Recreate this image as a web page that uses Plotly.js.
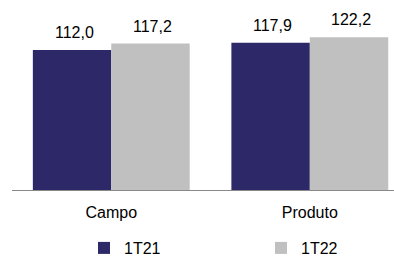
<!DOCTYPE html>
<html>
<head>
<meta charset="utf-8">
<script src="https://cdn.plot.ly/plotly-3.0.1.min.js"></script>
<style>html,body{margin:0;padding:0;background:#fff;}#chart{width:394px;height:258px;}</style>
</head>
<body>
<div id="chart"></div>
<script>
const categories = ['Campo', 'Produto'];
const seriesNames = ['1T21', '1T22'];
const values1T21 = [112.0, 117.9];
const values1T22 = [117.2, 122.2];
const seriesColors = ['#2D2868', '#C0C0C0'];

const font = 'Arial, "Liberation Sans", sans-serif';
const allValues = [values1T21, values1T22];

const traces = allValues.map((vals, i) => ({
  type: 'bar',
  name: seriesNames[i],
  x: categories,
  y: vals,
  marker: {color: seriesColors[i], line: {width: 0}},
  hoverinfo: 'skip'
}));

const barHalfPx = 39.2;
const annotations = [];
allValues.forEach((vals, i) => {
  vals.forEach((v, j) => {
    annotations.push({
      x: categories[j], y: v, xref: 'x', yref: 'y',
      text: v.toFixed(1).replace('.', ','),
      showarrow: false, yanchor: 'bottom',
      xshift: (i === 0 ? -barHalfPx : barHalfPx) + 2,
      yshift: 7,
      font: {family: font, size: 16, color: '#000'}
    });
  });
});

const layout = {
  width: 394, height: 258,
  margin: {l: 12, r: 0, t: 15, b: 68},
  paper_bgcolor: '#fff', plot_bgcolor: '#fff',
  barmode: 'group', bargap: 0.21, bargroupgap: 0,
  font: {family: font, color: '#000'},
  xaxis: {
    range: [-0.5, 1.424], showline: true, linecolor: '#898989', linewidth: 1,
    ticks: '', showgrid: false, zeroline: false, fixedrange: true,
    tickfont: {family: font, size: 16, color: '#000'}, ticklabelstandoff: 8
  },
  yaxis: {range: [0, 140], visible: false, showgrid: false, zeroline: false, fixedrange: true},
  showlegend: true,
  legend: {
    orientation: 'h', xref: 'container', yref: 'container',
    x: 84 / 394, xanchor: 'left', y: 10 / 258, yanchor: 'middle',
    entrywidth: 132, entrywidthmode: 'pixels',
    font: {family: font, size: 16, color: '#000'}, bgcolor: 'rgba(0,0,0,0)'
  },
  annotations: annotations
};

Plotly.newPlot('chart', traces, layout, {displayModeBar: false, staticPlot: true});
</script>
</body>
</html>
